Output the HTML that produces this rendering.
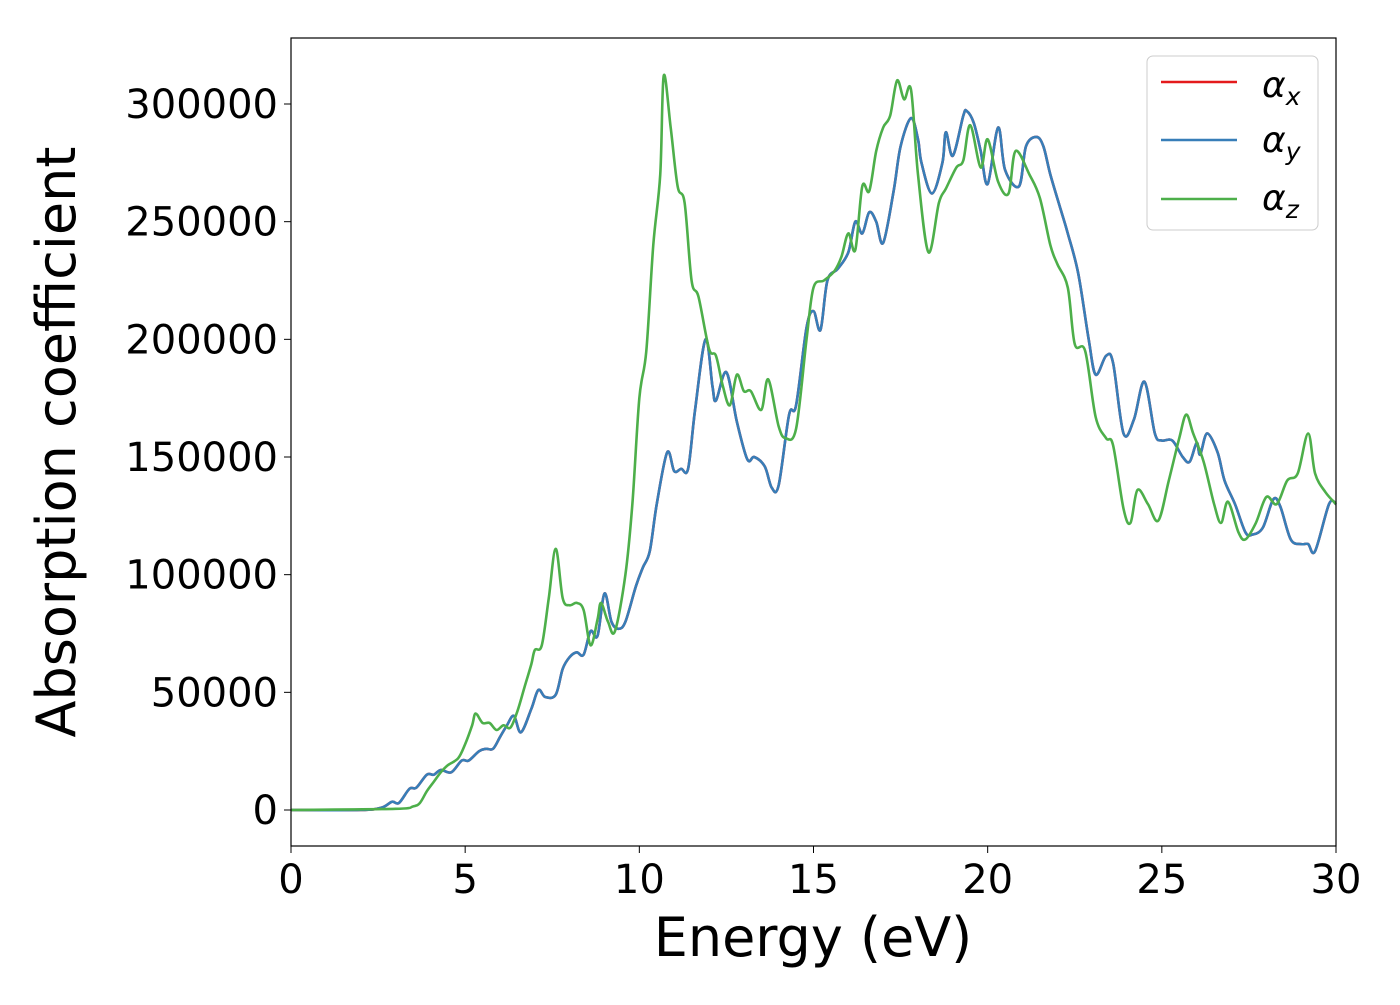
<!DOCTYPE html>
<html><head><meta charset="utf-8"><style>
body{margin:0;background:#fff}
svg text{font-family:"DejaVu Sans","Liberation Sans",sans-serif}
</style></head><body>
<svg id="chart" width="1400" height="1000" xmlns="http://www.w3.org/2000/svg">
<rect width="1400" height="1000" fill="#fff"/>
<g id="series"></g>
<g id="axes"></g>
<rect x="291" y="38" width="1045" height="808" fill="none" stroke="#000" stroke-width="1.2"/>
<text transform="translate(75,442) rotate(-90)" text-anchor="middle" font-size="54">Absorption coefficient</text>
<text x="813" y="956" text-anchor="middle" font-size="54">Energy (eV)</text>
<g>
<rect x="1147" y="56" width="171" height="174" rx="6" fill="#fff" fill-opacity="0.8" stroke="#ccc" stroke-width="1"/>
<line x1="1161" y1="82" x2="1237" y2="82" stroke="#e41a1c" stroke-width="2.5"/>
<text x="1262" y="97" font-size="36" font-style="italic">α<tspan font-size="25" dy="8">x</tspan></text>
<line x1="1161" y1="140" x2="1237" y2="140" stroke="#377eb8" stroke-width="2.5"/>
<text x="1262" y="152" font-size="36" font-style="italic">α<tspan font-size="25" dy="8">y</tspan></text>
<line x1="1161" y1="199" x2="1237" y2="199" stroke="#4daf4a" stroke-width="2.5"/>
<text x="1262" y="210" font-size="36" font-style="italic">α<tspan font-size="25" dy="8">z</tspan></text>
</g>
</svg>
<script>
const energyY=[0,2,2.6,2.9,3.1,3.4,3.6,3.9,4.1,4.3,4.6,4.9,5.1,5.4,5.6,5.8,6.0,6.2,6.4,6.6,6.9,7.1,7.3,7.6,7.8,8.0,8.2,8.4,8.6,8.8,9.0,9.2,9.4,9.6,9.9,10.1,10.3,10.5,10.8,11.0,11.2,11.4,11.6,11.9,12.1,12.2,12.5,12.8,13.1,13.3,13.6,13.8,14.0,14.3,14.5,14.8,15.0,15.2,15.4,15.7,16.0,16.2,16.4,16.6,16.8,17.0,17.3,17.5,17.8,18.0,18.1,18.4,18.7,18.8,19.0,19.3,19.4,19.6,19.8,20.0,20.3,20.5,20.9,21.1,21.4,21.6,21.8,22.1,22.3,22.6,22.9,23.1,23.4,23.6,23.9,24.2,24.5,24.8,25.0,25.3,25.6,25.8,26.0,26.1,26.3,26.6,26.8,27.1,27.4,27.6,27.9,28.2,28.4,28.7,29.0,29.2,29.4,29.8,30];
const alphaY=[0,0,1000,3500,3000,9000,9500,15000,15000,17000,16000,21000,21000,25000,26000,26000,31000,36000,40000,33000,43000,51000,48000,49000,60000,65000,67000,66000,76000,74000,92000,80000,77000,80000,95000,103000,110000,130000,152000,144000,145000,145000,170000,200000,180000,174000,186000,165000,149000,150000,146000,137000,138000,168000,172000,205000,212000,204000,225000,230000,237000,250000,245000,254000,250000,241000,263000,282000,294000,285000,275000,262000,275000,288000,278000,295000,297000,292000,280000,266000,290000,272000,265000,282000,286000,282000,270000,255000,245000,228000,200000,185000,193000,190000,160000,166000,182000,160000,157000,157000,150000,148000,156000,151000,160000,152000,140000,130000,118000,117000,120000,132000,129000,115000,113000,113000,110000,130000,130000];
const energyZ=[0,3,3.5,3.7,3.9,4.1,4.3,4.5,4.8,5.0,5.2,5.3,5.5,5.7,5.9,6.1,6.3,6.5,6.7,6.9,7.0,7.2,7.4,7.6,7.8,8.0,8.2,8.4,8.6,8.8,8.9,9.1,9.3,9.6,9.8,10.0,10.2,10.4,10.6,10.7,10.9,11.1,11.3,11.5,11.7,12.0,12.2,12.4,12.6,12.8,13.0,13.2,13.5,13.7,14.0,14.2,14.5,14.8,15.0,15.3,15.6,15.8,16.0,16.2,16.4,16.6,16.8,17.0,17.2,17.4,17.6,17.8,18.0,18.3,18.6,18.8,19.1,19.3,19.5,19.8,20.0,20.3,20.6,20.8,21.2,21.5,21.8,22.0,22.3,22.5,22.8,23.1,23.4,23.6,23.9,24.1,24.3,24.6,24.9,25.2,25.5,25.7,25.9,26.2,26.5,26.7,26.9,27.2,27.4,27.7,28.0,28.3,28.6,28.9,29.2,29.4,29.7,30];
const alphaZ=[0,500,1500,3000,8000,12000,16000,19000,22000,28000,36000,41000,37000,37000,34000,36000,35000,42000,52000,62000,68000,70000,90000,111000,90000,87000,88000,85000,70000,81000,88000,80000,76000,100000,130000,175000,195000,240000,270000,312000,290000,265000,258000,225000,218000,196000,193000,180000,172000,185000,178000,178000,170000,183000,163000,158000,162000,200000,222000,225000,229000,235000,245000,238000,265000,263000,280000,290000,295000,310000,302000,306000,270000,237000,258000,264000,273000,276000,291000,273000,285000,267000,262000,280000,270000,260000,240000,232000,222000,198000,195000,167000,158000,155000,128000,122000,136000,130000,123000,140000,158000,168000,160000,148000,130000,122000,131000,118000,115000,122000,133000,130000,140000,143000,160000,143000,135000,130000];
const xTicks=[0,5,10,15,20,25,30];
const yTicks=[0,50000,100000,150000,200000,250000,300000];
const NS="http://www.w3.org/2000/svg";
function xs(e){return 291+e*(1045/30);}
function ys(v){return 810-v*0.0023533;}
function pathFrom(ex,vals){
  const p=ex.map((e,i)=>[xs(e),ys(vals[i])]);
  let d="M"+p[0][0]+","+p[0][1];
  for(let i=0;i<p.length-1;i++){
    const p0=p[Math.max(0,i-1)],p1=p[i],p2=p[i+1],p3=p[Math.min(p.length-1,i+2)];
    const c1=[p1[0]+(p2[0]-p0[0])/6,p1[1]+(p2[1]-p0[1])/6];
    const c2=[p2[0]-(p3[0]-p1[0])/6,p2[1]-(p3[1]-p1[1])/6];
    d+=" C"+c1[0]+","+c1[1]+" "+c2[0]+","+c2[1]+" "+p2[0]+","+p2[1];
  }
  return d;
}
const sg=document.getElementById('series');
function addLine(ex,vals,color,name){
  const el=document.createElementNS(NS,'path');
  el.setAttribute('d',pathFrom(ex,vals));
  el.setAttribute('fill','none');el.setAttribute('stroke',color);el.setAttribute('stroke-width','2.6');
  
  
  sg.appendChild(el);
}
addLine(energyY,alphaY,'#e41a1c','alpha-x-line');
addLine(energyY,alphaY,'#377eb8','alpha-y-line');
addLine(energyZ,alphaZ,'#4daf4a','alpha-z-line');
const ax=document.getElementById('axes');
xTicks.forEach(t=>{
  const l=document.createElementNS(NS,'line');
  l.setAttribute('x1',xs(t));l.setAttribute('x2',xs(t));l.setAttribute('y1',846);l.setAttribute('y2',853);l.setAttribute('stroke','#000');
  
  
  ax.appendChild(l);
  const tx=document.createElementNS(NS,'text');
  tx.setAttribute('x',xs(t));tx.setAttribute('y',893);tx.setAttribute('text-anchor','middle');tx.setAttribute('font-size','40');
  tx.textContent=t;
  
  
  ax.appendChild(tx);
});
yTicks.forEach(t=>{
  const l=document.createElementNS(NS,'line');
  l.setAttribute('x1',284);l.setAttribute('x2',291);l.setAttribute('y1',ys(t));l.setAttribute('y2',ys(t));l.setAttribute('stroke','#000');
  
  
  ax.appendChild(l);
  const tx=document.createElementNS(NS,'text');
  tx.setAttribute('x',278);tx.setAttribute('y',ys(t)+14);tx.setAttribute('text-anchor','end');tx.setAttribute('font-size','40');
  tx.textContent=t;
  
  
  ax.appendChild(tx);
});
</script>
</body></html>
